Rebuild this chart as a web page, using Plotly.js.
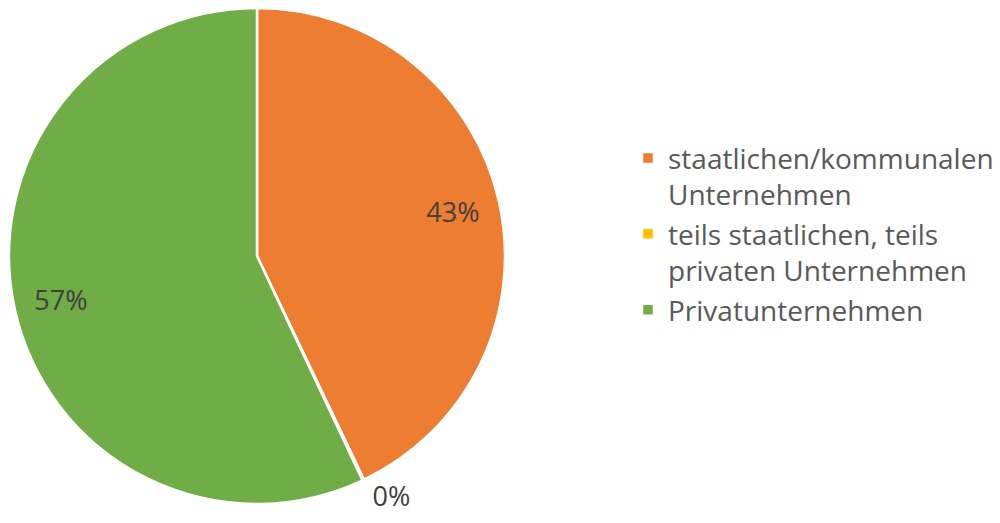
<!DOCTYPE html>
<html>
<head>
<meta charset="utf-8">
<script src="https://cdn.plot.ly/plotly-3.0.1.min.js"></script>
<style>html,body{margin:0;padding:0;background:#fff;}#chart{width:1000px;height:523px;}</style>
</head>
<body>
<div id="chart"></div>
<script>
var categories = ["staatlichen/kommunalen<br>Unternehmen", "teils staatlichen, teils<br>privaten Unternehmen", "Privatunternehmen"];
var values = [42.9, 0.1, 57.0];
var colors = ["#ED7D31", "#FFC000", "#70AD47"];

var pieDomain = {x: [0.009, 0.505], y: [0.0363, 0.9847]};

var slices = {
  type: "pie",
  labels: categories,
  values: values,
  sort: false,
  direction: "clockwise",
  rotation: 0,
  marker: {colors: colors, line: {color: "#ffffff", width: 2.5}},
  textinfo: "none",
  hoverinfo: "label+percent",
  domain: pieDomain
};

// transparent ring carrying the percentage labels near the outer edge
var labelsRing = {
  type: "pie",
  labels: categories,
  values: values,
  sort: false,
  direction: "clockwise",
  rotation: 0,
  hole: 0.62,
  showlegend: false,
  marker: {colors: ["rgba(0,0,0,0)", "rgba(0,0,0,0)", "rgba(0,0,0,0)"], line: {width: 0}},
  texttemplate: "%{percent:.0%}",
  textinfo: "percent",
  textposition: ["inside", "outside", "inside"],
  insidetextorientation: "horizontal",
  textfont: {family: "Open Sans, sans-serif", size: 27, color: "#404040"},
  outsidetextfont: {family: "Open Sans, sans-serif", size: 27, color: "#404040"},
  hoverinfo: "skip",
  domain: pieDomain
};

var layout = {
  width: 1000, height: 523,
  margin: {l: 0, r: 0, t: 0, b: 0},
  paper_bgcolor: "#ffffff",
  showlegend: true,
  legend: {
    x: 0.628, xanchor: "left", y: 0.745, yanchor: "top",
    valign: "top",
    font: {family: "Open Sans, sans-serif", size: 28, color: "#595959"},
    bgcolor: "rgba(0,0,0,0)"
  }
};

Plotly.newPlot("chart", [slices, labelsRing], layout, {displayModeBar: false, staticPlot: true});
</script>
</body>
</html>
